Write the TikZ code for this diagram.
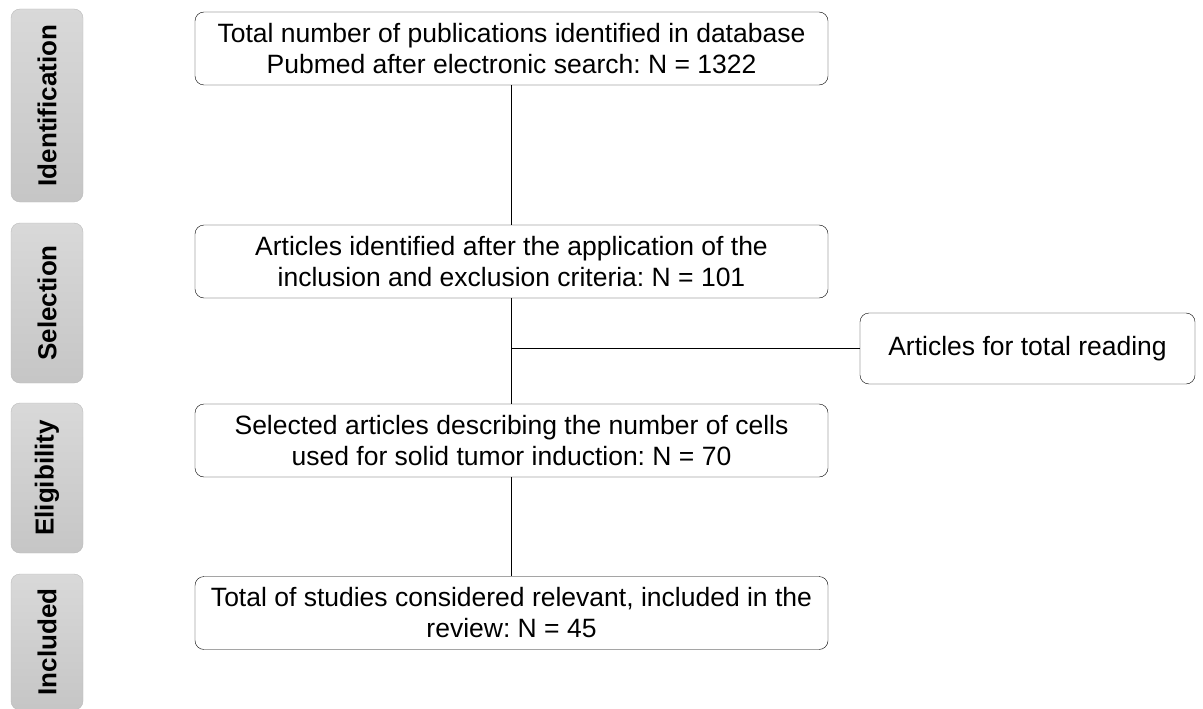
\documentclass[tikz,border=0pt]{standalone}
\usepackage{fontspec}
\setmainfont{Liberation Sans}
\usetikzlibrary{positioning}

\tikzset{
  stepbox/.style = {draw, rounded corners=9pt, minimum width=633pt, minimum height=73pt,
    align=center, font=\fontsize{26.5}{31}\selectfont, inner sep=2pt},
  phase/.style = {draw=gray!55, rounded corners=9pt, top color=gray!30, bottom color=gray!45,
    minimum height=72pt, rotate=90, font=\bfseries\fontsize{26}{30}\selectfont},
}

\begin{document}
\frenchspacing
\begin{tikzpicture}[x=1pt, y=-1pt]
        \useasboundingbox (0,0) rectangle (1203,709);

        \node (ident) [phase, minimum width=193pt] at (47,105.5) {Identification};
        \node (sel) [phase, minimum width=160pt] at (47,303) {Selection};
        \node (elig) [phase, minimum width=150pt] at (47,478) {Eligibility};
        \node (incl) [phase, minimum width=136pt] at (47,642) {Included};

        \node (total) [stepbox] at (511.5,48.5) {Total number of publications identified in database\\ Pubmed after electronic search: N = 1322};
        \node (arts) [stepbox] at (511.5,261.5) {Articles identified after the application of the\\ inclusion and exclusion criteria: N = 101};
        \node (cells) [stepbox] at (511.5,440.5) {Selected articles describing the number of cells\\ used for solid tumor induction: N = 70};
        \node (rev) [stepbox] at (511.5,613) {Total of studies considered relevant, included in the\\ review: N = 45};
        \node (read) [stepbox, minimum width=335pt, minimum height=71pt] at (1027.5,348.5) {Articles for total reading};

        \coordinate (split) at (arts.south |- read.west);

        \draw (total) -- (arts);
        \draw (arts) -- (cells);
        \draw (split) -- (read);
        \draw (cells) -- (rev);
      \end{tikzpicture}
\end{document}
